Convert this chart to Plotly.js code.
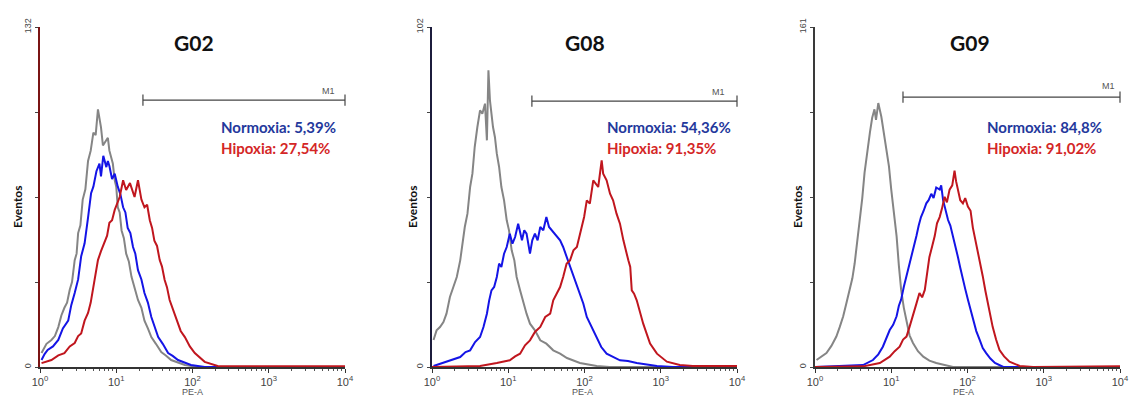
<!DOCTYPE html>
<html>
<head>
<meta charset="utf-8">
<script src="https://cdn.plot.ly/plotly-3.0.1.min.js"></script>
<style>html,body{margin:0;padding:0;background:#fff;}#chart{width:1130px;height:398px;}</style>
</head>
<body>
<div id="chart"></div>
<script>
// ---------- DATA (x values are log10 of PE-A channel, y = event counts) ----------
const panelNames = ['G02', 'G08', 'G09'];
const yMax = [132, 102, 161];
const normoxiaPct = ['5,39%', '54,36%', '84,8%'];
const hipoxiaPct = ['27,54%', '91,35%', '91,02%'];
const gateStartLog = [1.35, 1.31, 1.154];
const gateLabel = 'M1';
const decadeTicks = [0, 1, 2, 3, 4];
const decadeTickText = ['10<sup>0</sup>', '10<sup>1</sup>', '10<sup>2</sup>', '10<sup>3</sup>', '10<sup>4</sup>'];

// G02
const g02GrayLog = [0.02,0.085,0.15,0.195,0.24,0.28,0.32,0.355,0.39,0.42,0.455,0.48,0.50,0.53,0.56,0.595,0.63,0.665,0.70,0.73,0.76,0.80,0.825,0.85,0.89,0.91,0.935,0.955,0.98,1.0,1.02,1.045,1.07,1.10,1.13,1.165,1.20,1.24,1.285,1.33,1.37,1.415,1.46,1.52,1.59,1.65,1.72,1.90,2.07,4];
const g02GrayCnt = [5.4,9,10.5,12,15.5,20,23,25,30,33,41.5,44,52,55,65,69,80,84,91,90,100,93,86,87,89,84,81.5,79,72.5,70,62,60,53,50,44,41,35,31,26,23,18,15,11.6,9,5.8,4.5,2.7,0.8,0,0];
const g02BlueLog = [0.02,0.06,0.10,0.17,0.24,0.30,0.37,0.41,0.455,0.50,0.54,0.585,0.63,0.67,0.70,0.74,0.78,0.80,0.83,0.87,0.89,0.91,0.945,0.98,1.02,1.055,1.09,1.12,1.15,1.185,1.22,1.25,1.285,1.33,1.37,1.415,1.46,1.50,1.55,1.61,1.68,1.74,1.81,1.98,2.16,4];
const g02BlueCnt = [2.7,5,6.6,8,10.5,15,18,24,28.7,34,43,48,58,67.5,70,76,79,74,82,77.6,80,78,73,75,70,67,62,60,54,52,46.6,44,37.6,34,28.7,25,19.4,16,11.6,9,5.4,4.3,2.7,0.8,0,0];
const g02RedLog = [0.02,0.15,0.24,0.32,0.39,0.455,0.50,0.54,0.585,0.63,0.665,0.70,0.73,0.76,0.80,0.85,0.88,0.91,0.945,0.98,1.01,1.045,1.09,1.13,1.18,1.24,1.285,1.33,1.37,1.405,1.44,1.47,1.50,1.535,1.57,1.60,1.635,1.665,1.70,1.745,1.79,1.845,1.90,1.965,2.03,2.09,2.16,2.33,2.5,4];
const g02RedCnt = [1.5,2.7,4.5,5.4,8,9.3,12,13,18,21,25,31,35,41.5,45,49,51,56,57,61,63,66,72.5,68.7,71.4,66,72.5,65,62,63,57,54,49,47,41.5,39,33.8,31,26,22,18,14,11.6,8,5.4,4,2,0.4,0.3,0.3];

// G08
const g08GrayLog = [0.02,0.06,0.105,0.15,0.19,0.235,0.28,0.325,0.37,0.40,0.43,0.465,0.50,0.53,0.56,0.595,0.63,0.66,0.695,0.72,0.74,0.76,0.80,0.825,0.85,0.88,0.91,0.945,0.98,1.01,1.045,1.08,1.11,1.155,1.20,1.24,1.285,1.35,1.42,1.50,1.59,1.68,1.77,1.94,2.16,2.33,4];
const g08GrayCnt = [8.1,11,12,13.5,16,21,24,27,32,37,42,46,54,58,66,72,77,76,79,68,89,80,72,69,64,60,54,50,44,41,35,32,27,23,19,16,13,11,8,7,5,4,2.7,1.2,0.3,0,0];
const g08BlueLog = [0.02,0.19,0.28,0.37,0.44,0.50,0.565,0.63,0.675,0.72,0.75,0.78,0.815,0.85,0.88,0.91,0.945,0.98,1.02,1.055,1.09,1.13,1.18,1.21,1.24,1.285,1.315,1.35,1.385,1.42,1.46,1.50,1.535,1.57,1.635,1.68,1.72,1.765,1.81,1.855,1.90,1.94,1.985,2.03,2.07,2.115,2.16,2.22,2.29,2.38,2.465,2.57,2.685,2.95,3.16,4];
const g08BlueCnt = [0.3,1.6,2.5,3,4.5,5,7.5,9,12,16,20,23,24,27,31,30,34,36,40,37,39,43,38,41,40,34,38,40,38,42,41,45,42,41,39,38,36,33,30,27,24,22,19,15,13,11,9,6,4,3,2,1.8,1.2,0.3,0,0];
const g08RedLog = [0,0.63,0.85,1.02,1.09,1.155,1.22,1.285,1.35,1.42,1.485,1.55,1.59,1.635,1.68,1.72,1.765,1.81,1.855,1.90,1.96,1.995,2.03,2.07,2.115,2.18,2.225,2.245,2.29,2.335,2.375,2.42,2.465,2.51,2.575,2.60,2.62,2.65,2.685,2.73,2.77,2.815,2.86,2.95,3.08,3.25,3.42,4];
const g08RedCnt = [0,0.3,1.2,2,3.2,4,6.5,8,10.5,12,15,16,20,22,24,27,31,32,35,36,42,45,50,49,56,54,62,58,56,52,50,46,43,38,32,30,23,22,20,16,13,10,7,4,1.6,0.6,0.3,0.3];

// G09
const g09GrayLog = [0.02,0.085,0.15,0.215,0.28,0.325,0.37,0.41,0.455,0.49,0.52,0.55,0.585,0.62,0.65,0.685,0.72,0.75,0.78,0.80,0.83,0.87,0.90,0.935,0.97,1.00,1.035,1.07,1.10,1.13,1.165,1.20,1.24,1.285,1.35,1.42,1.50,1.59,1.81,4];
const g09GrayCnt = [3.3,5,6.6,10,14.4,19,24,30,36.5,42,49,58,68,80,92,103,111,118,122,117,125,118.5,112,104,95,84,74,62,48,36.5,28,21,15,11.4,7.5,4.9,3,1.9,0,0];
const g09BlueLog = [0,0.41,0.63,0.76,0.83,0.89,0.935,0.98,1.025,1.07,1.10,1.13,1.165,1.20,1.23,1.26,1.295,1.33,1.36,1.39,1.425,1.46,1.49,1.525,1.555,1.59,1.635,1.655,1.68,1.71,1.745,1.775,1.81,1.84,1.875,1.905,1.94,1.97,2.005,2.04,2.07,2.115,2.16,2.2,2.245,2.30,2.36,2.47,4];
const g09BlueCnt = [0,0.5,0.9,3.3,6,9.6,14,17.5,20,24,29,32,38,43,47,52,56,62,67,71,74,77.5,79,82,80,85,84,86,79,75,69.6,67,62,58,52,47,41,37,32,27,22,17,12.8,9,6.6,4,1.9,0,0];
const g09RedLog = [0,0.63,0.85,0.915,0.98,1.045,1.11,1.155,1.20,1.24,1.285,1.33,1.37,1.405,1.44,1.47,1.50,1.535,1.57,1.60,1.635,1.665,1.70,1.73,1.765,1.80,1.83,1.85,1.875,1.905,1.94,1.97,2.005,2.04,2.07,2.105,2.14,2.17,2.20,2.235,2.27,2.30,2.33,2.375,2.42,2.48,2.55,2.685,2.86,4];
const g09RedCnt = [0,0.3,1.9,3.5,4.9,7.5,9.6,13,14.4,19,24,30,35,33,36.5,44,52,57,62,68,71,75,80.6,78,84,86,93,88,84,79,77.5,80,76,74,66,60,55,49,43,36,30,24,19,13,8,5,2.5,0.5,0,0.3];

const seriesByPanel = [
  [[g02GrayLog, g02GrayCnt], [g02BlueLog, g02BlueCnt], [g02RedLog, g02RedCnt]],
  [[g08GrayLog, g08GrayCnt], [g08BlueLog, g08BlueCnt], [g08RedLog, g08RedCnt]],
  [[g09GrayLog, g09GrayCnt], [g09BlueLog, g09BlueCnt], [g09RedLog, g09RedCnt]]
];

// ---------- STYLE / LAYOUT ----------
const W = 1130, H = 398;
const lineColors = ['#858585', '#1414e6', '#c0161e'];
const axisLineColors = ['#7a1414', '#1c1c3c', '#3a3a3a'];
const plotLeftPx = [40, 432, 815];
const plotWidthPx = 305;
const plotTopPx = 27, plotBottomPx = 367;
const gateYFrac = [0.785, 0.782, 0.794];
const textLeftPx = [219, 605, 985];
const titleCxPx = [194, 585, 970];
const m1LabelPx = [[328, 91], [718, 92], [1108, 86]];
const eventosXPx = [17, 412, 797];
const peaXPx = [192, 582, 963];

const px = v => v / W, py = v => 1 - v / H;

const traces = [];
const layout = {
  width: W, height: H,
  margin: {l: 0, r: 0, t: 0, b: 0},
  paper_bgcolor: '#fff', plot_bgcolor: '#fff',
  showlegend: false,
  annotations: []
};

const minorVals = [];
for (let d = 0; d < 4; d++) for (let m = 2; m <= 9; m++) minorVals.push(m * Math.pow(10, d));

for (let p = 0; p < 3; p++) {
  const xa = p === 0 ? 'x' : 'x' + (p + 1);
  const ya = p === 0 ? 'y' : 'y' + (p + 1);
  const xKey = p === 0 ? 'xaxis' : 'xaxis' + (p + 1);
  const yKey = p === 0 ? 'yaxis' : 'yaxis' + (p + 1);
  const ym = yMax[p];

  seriesByPanel[p].forEach((s, i) => {
    traces.push({
      type: 'scatter', mode: 'lines', xaxis: xa, yaxis: ya,
      x: s[0].map(v => Math.pow(10, v)), y: s[1],
      line: {color: lineColors[i], width: 2},
      hoverinfo: 'skip'
    });
  });

  // gate bar M1
  const gy = ym * gateYFrac[p];
  traces.push({
    type: 'scatter', mode: 'lines+markers', xaxis: xa, yaxis: ya,
    x: [Math.pow(10, gateStartLog[p]), Math.pow(10, 4)], y: [gy, gy],
    line: {color: '#444', width: 1.2},
    marker: {symbol: 'line-ns-open', size: 8, color: '#444', line: {width: 1.2, color: '#444'}},
    cliponaxis: false, hoverinfo: 'skip'
  });

  layout[xKey] = {
    domain: [px(plotLeftPx[p]), px(plotLeftPx[p] + plotWidthPx)],
    anchor: ya, type: 'log', range: [0, 4],
    tickvals: decadeTicks.map(d => Math.pow(10, d)), ticktext: decadeTickText,
    ticks: 'outside', ticklen: 4, tickcolor: '#333', tickwidth: 1,
    minor: {tickvals: minorVals, ticks: 'outside', ticklen: 2, tickcolor: '#555', tickwidth: 1},
    tickfont: {family: 'Liberation Sans, Arial', size: 11, color: '#444'},
    showline: true, linecolor: '#333', linewidth: 1.5,
    showgrid: false, zeroline: false, fixedrange: true
  };
  layout[yKey] = {
    domain: [py(plotBottomPx), py(plotTopPx)],
    anchor: xa, range: [0, ym],
    tickvals: [0, ym],
    ticktext: ['0', String(ym)],
    tickangle: -90,
    ticks: 'outside', ticklen: 3, tickcolor: '#444',
    minor: {tickvals: [ym / 4, ym / 2, 3 * ym / 4], ticks: 'outside', ticklen: 3, tickcolor: '#444', tickwidth: 1},
    tickfont: {family: 'Liberation Sans, Arial', size: 9, color: '#444'},
    showline: true, linecolor: axisLineColors[p], linewidth: 2.2,
    showgrid: false, zeroline: false, fixedrange: true
  };

  const A = layout.annotations;
  A.push({xref: 'paper', yref: 'paper', x: px(titleCxPx[p]), y: py(43), text: '<b>' + panelNames[p] + '</b>',
    showarrow: false, xanchor: 'center', yanchor: 'middle', font: {family: 'Lato, Open Sans', size: 21, color: '#111'}});
  A.push({xref: 'paper', yref: 'paper', x: px(textLeftPx[p]), y: py(127), text: '<b>Normoxia: ' + normoxiaPct[p] + '</b>',
    showarrow: false, xanchor: 'left', yanchor: 'middle', font: {family: 'Lato, Open Sans', size: 15, color: '#24389c'}});
  A.push({xref: 'paper', yref: 'paper', x: px(textLeftPx[p]), y: py(148), text: '<b>Hipoxia: ' + hipoxiaPct[p] + '</b>',
    showarrow: false, xanchor: 'left', yanchor: 'middle', font: {family: 'Lato, Open Sans', size: 15, color: '#d42626'}});
  A.push({xref: 'paper', yref: 'paper', x: px(m1LabelPx[p][0]), y: py(m1LabelPx[p][1]), text: gateLabel,
    showarrow: false, xanchor: 'center', yanchor: 'middle', font: {family: 'Liberation Sans, Arial', size: 9, color: '#555'}});
  A.push({xref: 'paper', yref: 'paper', x: px(eventosXPx[p]), y: py(207), text: '<b>Eventos</b>', textangle: -90,
    showarrow: false, xanchor: 'center', yanchor: 'middle', font: {family: 'Lato, Open Sans', size: 12, color: '#111'}});
  A.push({xref: 'paper', yref: 'paper', x: px(peaXPx[p]), y: py(392), text: 'PE-A',
    showarrow: false, xanchor: 'center', yanchor: 'middle', font: {family: 'Liberation Sans, Arial', size: 9, color: '#555'}});
}

Plotly.newPlot('chart', traces, layout, {staticPlot: true, displayModeBar: false});
</script>
</body>
</html>
